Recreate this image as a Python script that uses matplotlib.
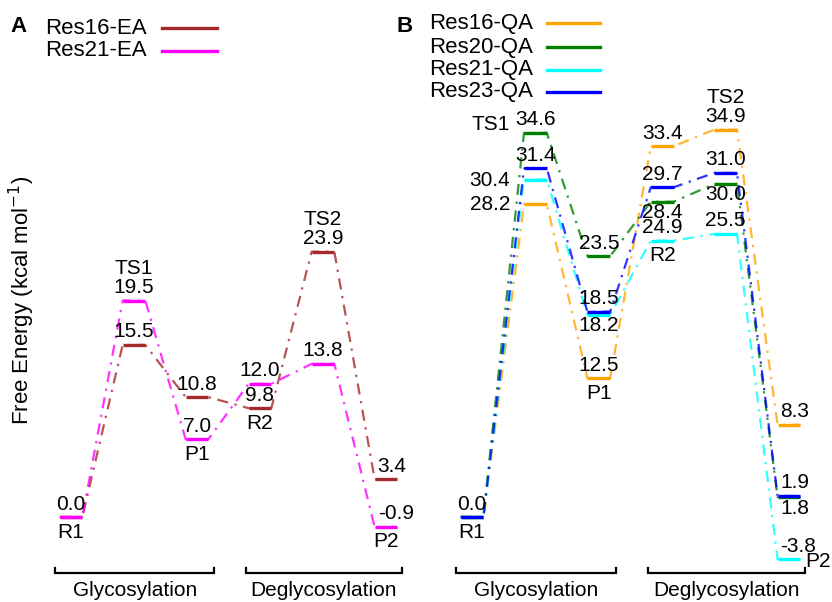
import numpy as np
import matplotlib.pyplot as plt
from matplotlib.lines import Line2D

plt.rcParams['font.family'] = ['Liberation Sans', 'DejaVu Sans']

# data
states = ['R1', 'TS1', 'P1', 'R2', 'TS2', 'P2']
phases = ['Glycosylation', 'Deglycosylation']

names_a = ['Res16-EA', 'Res21-EA']
res16_ea = [0.0, 15.5, 10.8, 9.8, 23.9, 3.4]
res21_ea = [0.0, 19.5, 7.0, 12.0, 13.8, -0.9]

names_b = ['Res16-QA', 'Res20-QA', 'Res21-QA', 'Res23-QA']
res16_qa = [0.0, 28.2, 12.5, 33.4, 34.9, 8.3]
res20_qa = [0.0, 34.6, 23.5, 28.4, 30.0, 1.8]
res21_qa = [0.0, 30.4, 18.2, 24.9, 25.5, -3.8]
res23_qa = [0.0, 31.4, 18.5, 29.7, 31.0, 1.9]

colors_a = ['#a52a2a', '#ff00ff']
colors_b = ['#ffa500', '#008000', '#00ffff', '#0000ff']

# where each value label goes: a=above, b=below, l=left, None=no label
lab_a = [[None, 'a', 'a', 'a', 'a', 'a'],
         ['a', 'a', 'a', 'a', 'a', 'a']]
lab_b = [[None, 'l', 'a', 'a', 'a', 'a'],
         [None, 'a', 'a', 'b', 'b', 'b'],
         [None, 'l', 'b', 'a', 'a', 'a'],
         ['a', 'a', 'a', 'a', 'a', 'a']]
state_pos_a = ['b', 'a', 'b', 'b', 'a', 'b']
state_pos_b = ['b', 'l', 'b', 'b', 'a', 'r']

W, H = 832, 602
fig = plt.figure(figsize=(W / 100, H / 100), dpi=100)

# pixel layout: y=0 kcal at 517 px, 11.1 px per kcal; 63 px per state
y0px, ypx = 517, 11.1
ylim = ((y0px - H) / ypx, y0px / ypx)
hw = 0.18
FS = 15


def make_axes(left, right, x0px, xstep):
    ax = fig.add_axes([left / W, 0, (right - left) / W, 1])
    ax.set_xlim((left - x0px) / xstep, (right - x0px) / xstep)
    ax.set_ylim(*ylim)
    ax.axis('off')
    return ax


def note(ax, s, xy, off, ha):
    ax.annotate(s, xy, xytext=off, textcoords='offset pixels',
                ha=ha, va='center', fontsize=FS)


def panel(ax, series, colors, labs, spos):
    xs = np.arange(len(states))
    for vals, c, lab in zip(series, colors, labs):
        px = np.ravel([[x - hw, x + hw] for x in xs])
        py = np.repeat(vals, 2)
        ax.plot(px, py, color=c, lw=1.6, ls=(0, (5, 3, 1, 3)), alpha=0.8)
        ax.hlines(vals, xs - hw, xs + hw, color=c, lw=2.4)
        for i, (v, code) in enumerate(zip(vals, lab)):
            if code is None:
                continue
            s = f'{v:.1f}'
            dy = 13 if code == 'a' else -11
            if i == len(states) - 1:
                # last state: labels start at the level's left edge
                note(ax, s, (xs[i] - hw, v), (3, dy), 'left')
            elif code == 'l':
                note(ax, s, (xs[i] - hw, v), (-14, -1), 'right')
            else:
                note(ax, s, (xs[i], v), (0, dy), 'center')
    allv = np.array(series)
    for i, (s, code) in enumerate(zip(states, spos)):
        lo, hi = allv[:, i].min(), allv[:, i].max()
        if code == 'a':
            note(ax, s, (xs[i], hi), (0, 32), 'center')
        elif code == 'b':
            note(ax, s, (xs[i], lo), (0, -15), 'center')
        elif code == 'l':
            note(ax, s, (xs[i] - hw, hi), (-14, 8), 'right')
        else:
            note(ax, s, (xs[i] + hw, lo), (5, -2), 'left')
    # phase brackets
    yb = (y0px - 573) / ypx
    tk = 5 / ypx
    yt = (y0px - 591) / ypx
    for (a, b), name in zip([(-0.25, 2.27), (2.77, 5.25)], phases):
        ax.plot([a, a, b, b], [yb + tk, yb, yb, yb + tk], color='black', lw=1.6,
                solid_joinstyle='miter', clip_on=False)
        ax.text((a + b) / 2, yt, name, ha='center', va='center', fontsize=15)


def legend(names, colors, x_text, y_rows, x_line):
    for n, c, y in zip(names, colors, y_rows):
        fig.text(x_text / W, 1 - y / H, n, ha='left', va='center', fontsize=16)
        fig.add_artist(Line2D([x_line[0] / W, x_line[1] / W], [1 - y / H, 1 - y / H],
                              color=c, lw=2.4))


ax1 = make_axes(40, 420, 71, 63)
panel(ax1, [res16_ea, res21_ea], colors_a, lab_a, state_pos_a)

ax2 = make_axes(440, 832, 472, 63.4)
panel(ax2, [res16_qa, res20_qa, res21_qa, res23_qa], colors_b, lab_b, state_pos_b)

legend(names_a, colors_a, 45, [28, 51], (162, 217))
legend(names_b, colors_b, 429, [23, 47, 70, 92], (547, 600))

fig.text(10 / W, 1 - 26 / H, 'A', fontsize=16, fontweight='bold', va='center')
fig.text(396 / W, 1 - 26 / H, 'B', fontsize=16, fontweight='bold', va='center')
fig.text(22 / W, 1 - 300 / H, 'Free Energy (kcal mol$^{-1}$)', rotation=90,
         ha='center', va='center', fontsize=16)

fig.savefig('out.png', dpi=100)
